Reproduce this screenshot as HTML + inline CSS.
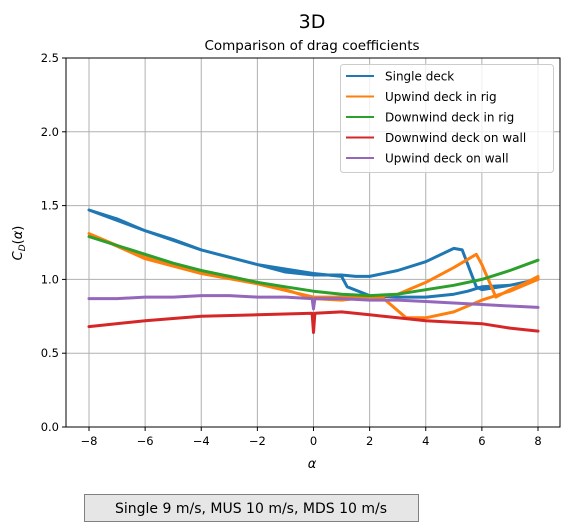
<!DOCTYPE html>
<html><head><meta charset="utf-8"><style>
body{margin:0;background:#fff;width:570px;height:526px;overflow:hidden;font-family:"Liberation Sans","DejaVu Sans",sans-serif}
svg text{font-family:"DejaVu Sans","Liberation Sans",sans-serif}
</style></head><body>
<svg id="chart" width="570" height="526" viewBox="0 0 570 526">
<text x="312" y="28" text-anchor="middle" font-size="19">3D</text>
<text x="312" y="50" text-anchor="middle" font-size="13.5">Comparison of drag coefficients</text>
<g id="grid"></g>
<g id="series"></g>
<rect x="66" y="58" width="494" height="369" fill="none" stroke="#000" stroke-width="1"/>
<g id="ticks"></g>
<text x="312" y="468" text-anchor="middle" font-size="13" font-style="italic">α</text>
<text transform="translate(22,243) rotate(-90)" text-anchor="middle" font-size="13"><tspan font-style="italic">C</tspan><tspan font-style="italic" font-size="9" dy="3">D</tspan><tspan dy="-3">(</tspan><tspan font-style="italic">α</tspan>)</text>
<g id="legend"></g>
<rect x="84.5" y="494.5" width="334" height="27" fill="#e6e6e6" stroke="#808080"/>
<text x="251" y="513" text-anchor="middle" font-size="14">Single 9 m/s, MUS 10 m/s, MDS 10 m/s</text>
</svg>
<script>
const xTicks=[-8,-6,-4,-2,0,2,4,6,8];
const yTicks=[0,0.5,1,1.5,2,2.5];
const yTickLabels=["0.0","0.5","1.0","1.5","2.0","2.5"];
const seriesNames=["Single deck","Upwind deck in rig","Downwind deck in rig","Downwind deck on wall","Upwind deck on wall"];
const seriesColors=["#1f77b4","#ff7f0e","#2ca02c","#d62728","#9467bd"];
const singleAlpha=[-8,-7,-6,-5,-4,-3,-2,-1,0,1,1.5,2,3,4,5,5.3,5.8,6,7,8,8,7,6,5.5,5,4,3,2,1.2,1,0,-2,-4,-6,-8];
const singleCd=[1.47,1.41,1.33,1.27,1.2,1.15,1.1,1.05,1.03,1.03,1.02,1.02,1.06,1.12,1.21,1.2,0.95,0.93,0.96,1.0,1.0,0.96,0.95,0.92,0.9,0.88,0.88,0.89,0.95,1.02,1.04,1.1,1.2,1.33,1.47];
const upRigAlpha=[-8,-7,-6,-5,-4,-3,-2,-1,0,1,2,3,4,5,5.8,6,6.5,7,7.5,8,8,7,6,5,4,3.3,2.5,2,0,-2,-4,-6,-8];
const upRigCd=[1.31,1.23,1.15,1.09,1.05,1.02,0.98,0.93,0.87,0.86,0.88,0.9,0.98,1.08,1.17,1.1,0.88,0.93,0.97,1.02,1.0,0.92,0.86,0.78,0.74,0.74,0.87,0.88,0.88,0.97,1.04,1.14,1.31];
const downRigAlpha=[-8,-7,-6,-5,-4,-3,-2,-1,0,1,2,3,4,5,6,7,8];
const downRigCd=[1.29,1.23,1.17,1.11,1.06,1.02,0.98,0.95,0.92,0.9,0.89,0.9,0.93,0.96,1.0,1.06,1.13];
const downWallAlpha=[-8,-6,-4,-2,-0.05,0,0.05,1,2,3,4,5,6,7,8];
const downWallCd=[0.68,0.72,0.75,0.76,0.77,0.64,0.77,0.78,0.76,0.74,0.72,0.71,0.7,0.67,0.65];
const upWallAlpha=[-8,-7,-6,-5,-4,-3,-2,-1,-0.05,0,0.05,1,2,3,4,5,6,7,8];
const upWallCd=[0.87,0.87,0.88,0.88,0.89,0.89,0.88,0.88,0.87,0.8,0.87,0.87,0.86,0.86,0.85,0.84,0.83,0.82,0.81];
const seriesX=[singleAlpha,upRigAlpha,downRigAlpha,downWallAlpha,upWallAlpha];
const seriesY=[singleCd,upRigCd,downRigCd,downWallCd,upWallCd];
const NS="http://www.w3.org/2000/svg";
const X0=66,X1=560,Y0=58,Y1=427;
function xs(a){return 89+(a+8)*(538-89)/16;}
function ys(v){return Y1-v*(Y1-Y0)/2.5;}
function mk(tag,attrs,parent){const e=document.createElementNS(NS,tag);for(const k in attrs)e.setAttribute(k,attrs[k]);parent.appendChild(e);return e;}
const grid=document.getElementById('grid'),ticks=document.getElementById('ticks');
xTicks.forEach(t=>{
 const l=mk('line',{x1:xs(t),x2:xs(t),y1:Y0,y2:Y1,stroke:'#b0b0b0','stroke-width':1},grid);
 
 
 const tk=mk('line',{x1:xs(t),x2:xs(t),y1:Y1,y2:Y1+4,stroke:'#000'},ticks);
 
 
 const tx=mk('text',{x:xs(t),y:Y1+18,'text-anchor':'middle','font-size':11.5},ticks);
 tx.textContent=(t<0?'\u2212'+(-t):t);
 
 
});
yTicks.forEach((t,i)=>{
 const l=mk('line',{x1:X0,x2:X1,y1:ys(t),y2:ys(t),stroke:'#b0b0b0','stroke-width':1},grid);
 
 
 const tk=mk('line',{x1:X0-4,x2:X0,y1:ys(t),y2:ys(t),stroke:'#000'},ticks);
 
 
 const tx=mk('text',{x:X0-7,y:ys(t)+4,'text-anchor':'end','font-size':11.5},ticks);
 tx.textContent=yTickLabels[i];
 
 
});
const sg=document.getElementById('series');
seriesX.forEach((xa,i)=>{
 const pts=xa.map((a,j)=>xs(a).toFixed(1)+','+ys(seriesY[i][j]).toFixed(1)).join(' ');
 const p=mk('polyline',{points:pts,fill:'none',stroke:seriesColors[i],'stroke-width':3,'stroke-linejoin':'round','stroke-linecap':'round'},sg);
 
 
});
const lg=document.getElementById('legend');
const box=mk('rect',{x:340.5,y:64.5,width:213,height:108,rx:3,fill:'#fff','fill-opacity':0.8,stroke:'#ccc'},lg);


seriesNames.forEach((n,i)=>{
 const y=76+i*20.5;
 const l=mk('line',{x1:346,x2:374,y1:y,y2:y,stroke:seriesColors[i],'stroke-width':2},lg);
 
 
 const t=mk('text',{x:385,y:y+4.5,'font-size':12},lg);
 t.textContent=n;
 
 
});
</script>
</body></html>
